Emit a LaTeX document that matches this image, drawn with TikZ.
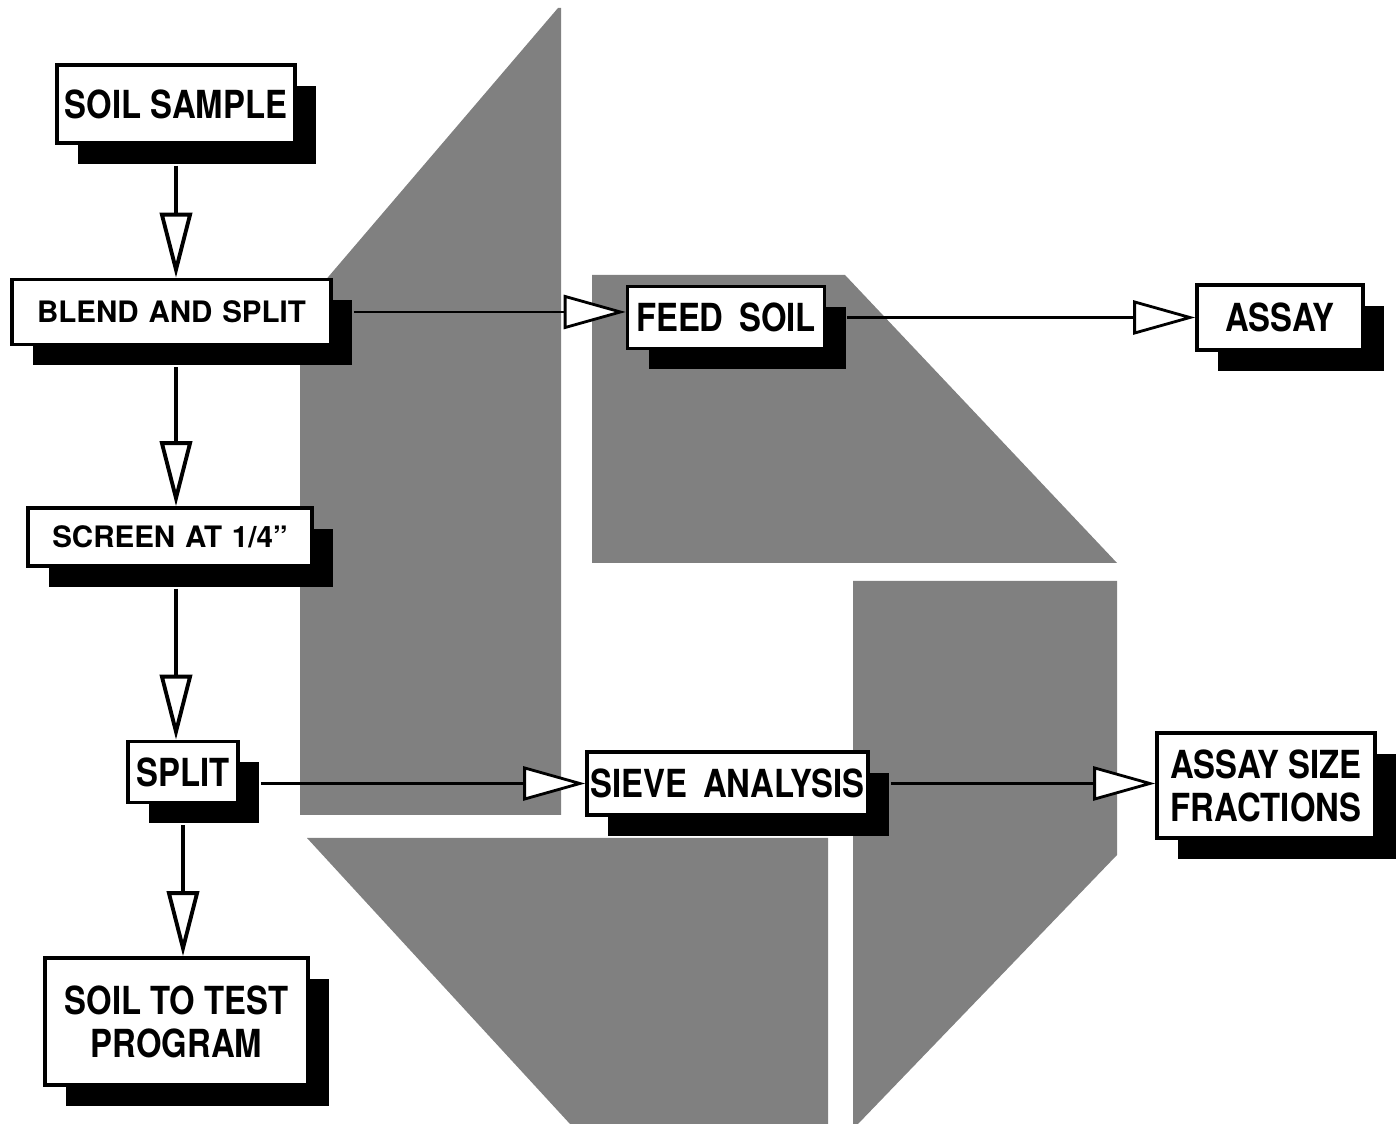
\documentclass[tikz,border=0pt]{standalone}
\usepackage{fontspec}
\setmainfont{TeX Gyre Heros}
\newfontfamily\narrowheros{TeX Gyre Heros}[FakeStretch=0.85]
\usepackage{tikz}
\usetikzlibrary{arrows.meta,shadows}
\definecolor{screengray}{gray}{0.5}
\tikzset{
  stepbox/.style={draw=black,line width=1pt,fill=white,align=center,inner sep=1pt,
    drop shadow={shadow xshift=2.1mm,shadow yshift=-2.1mm,fill=black,opacity=1}},
  bigtxt/.style={font=\narrowheros\bfseries\fontsize{11}{12.2}\selectfont},
  smalltxt/.style={font=\bfseries\fontsize{8.4}{10}\selectfont},
  vflow/.style={-{Triangle[fill=white,length=6.5mm,width=3.2mm]},line width=1.1pt},
  hflow/.style={-{Triangle[fill=white,length=6.2mm,width=3.4mm]},line width=0.8pt},
  halftone/.style={fill=screengray},
}

\begin{document}
\begin{tikzpicture}
  \useasboundingbox (0,0) rectangle (13.96,-11.24);
  \fill[halftone] (3.00,-3.10) -- (5.58,-0.08) -- (5.61,-0.08) -- (5.61,-8.15) -- (3.00,-8.15) -- cycle;
  \fill[halftone] (5.92,-2.75) -- (8.45,-2.75) -- (11.17,-5.63) -- (5.92,-5.63) -- cycle;
  \fill[halftone] (3.07,-8.38) -- (8.28,-8.38) -- (8.28,-11.24) -- (5.70,-11.24) -- cycle;
  \fill[halftone] (8.53,-5.81) -- (11.17,-5.81) -- (11.17,-8.55) -- (8.58,-11.24) -- (8.53,-11.24) -- cycle;

  \node[stepbox,bigtxt,minimum width=2.38cm,minimum height=0.78cm] (sample) at (1.76,-1.04) {SOIL SAMPLE};
  \node[stepbox,smalltxt,minimum width=3.19cm,minimum height=0.65cm] (blend) at (1.715,-3.12) {BLEND\,\,AND\,\,SPLIT};
  \node[stepbox,smalltxt,minimum width=2.84cm,minimum height=0.58cm] (screen) at (1.70,-5.37) {SCREEN\,\,AT\,\,1/4''};
  \node[stepbox,bigtxt,minimum width=1.10cm,minimum height=0.61cm] (split) at (1.83,-7.72) {SPLIT};
  \node[stepbox,bigtxt,minimum width=2.63cm,minimum height=1.27cm] (soiltest) at (1.765,-10.215) {SOIL TO TEST\\PROGRAM};
  \node[stepbox,bigtxt,minimum width=1.97cm,minimum height=0.62cm] (feed) at (7.26,-3.175) {FEED\, SOIL};
  \node[stepbox,bigtxt,minimum width=1.66cm,minimum height=0.65cm] (assay) at (12.80,-3.175) {ASSAY};
  \node[stepbox,bigtxt,minimum width=2.81cm,minimum height=0.63cm] (sieve) at (7.275,-7.835) {SIEVE\, ANALYSIS};
  \node[stepbox,bigtxt,minimum width=2.18cm,minimum height=1.05cm] (frac) at (12.66,-7.855) {ASSAY SIZE\\FRACTIONS};

  \draw[vflow] ([yshift=-2.1mm]sample.south) -- (sample.south |- blend.north);
  \draw[vflow] ([yshift=-2.1mm]blend.south -| sample.south) -- (sample.south |- screen.north);
  \draw[vflow] ([yshift=-2.1mm]screen.south -| sample.south) -- (sample.south |- split.north);
  \draw[vflow] ([yshift=-2.1mm]split.south) -- (split.south |- soiltest.north);
  \draw[hflow] ([xshift=2.1mm]blend.east) -- (blend.east -| feed.west);
  \draw[hflow] ([xshift=2.1mm]feed.east) -- (feed.east -| assay.west);
  \draw[hflow] ([xshift=2.1mm]split.east |- sieve.west) -- (sieve.west);
  \draw[hflow] ([xshift=2.1mm]sieve.east) -- (sieve.east -| frac.west);
\end{tikzpicture}
\end{document}
